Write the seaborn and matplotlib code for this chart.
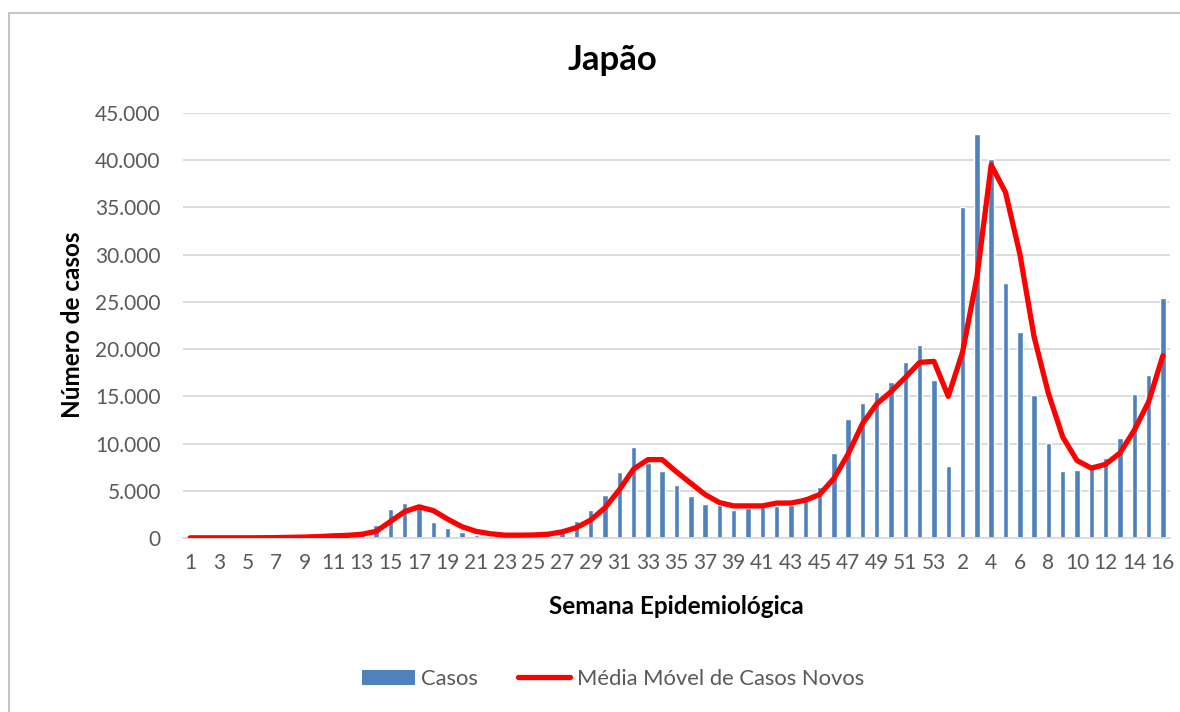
import matplotlib
matplotlib.use("Agg")
import matplotlib.pyplot as plt
import matplotlib.ticker as mticker
from matplotlib.patches import Rectangle, Patch
from matplotlib.lines import Line2D
import seaborn as sns
import pandas as pd

semanas = list(range(1, 54)) + list(range(1, 17))

casos = [
    0, 0, 0, 10, 10, 20, 30, 50, 80, 120, 200, 250, 450,
    1400, 3050, 3750, 3300, 1700, 1100, 600, 350,
    250, 200, 200, 250, 400,
    1000, 1800, 3000, 4600, 7000, 9600, 7900, 7100, 5650, 4400, 3650, 3500, 3000, 3200,
    3300, 3400, 3500, 4400, 5400, 9000, 12600, 14300, 15500, 16500, 18600, 20400, 16700,
    7600, 35100, 42800, 40100, 27000, 21800, 15100, 10100, 7100, 7200, 7400, 8500, 10600, 15200, 17300, 25400,
]

media_movel = [
    20, 20, 20, 20, 20, 30, 40, 70, 100, 150, 230, 280, 400,
    700, 1750, 2800, 3300, 2900, 2000, 1200, 700,
    450, 300, 300, 320, 400,
    650, 1100, 1900, 3200, 5100, 7300, 8300, 8300, 7000, 5800, 4600, 3750, 3400, 3400,
    3400, 3700, 3700, 4000, 4600, 6300, 8900, 12100, 14200, 15500, 17000, 18600, 18700,
    15000, 19700, 27600, 39500, 36600, 30100, 21300, 15300, 10700, 8200, 7400, 7800, 9000, 11400, 14400, 19300,
]

titulo = "Japão"
rotulo_x = "Semana Epidemiológica"
rotulo_y = "Número de casos"
nome_barras = "Casos"
nome_linha = "Média Móvel de Casos Novos"

df = pd.DataFrame({"pos": range(len(semanas)), "semana": semanas,
                   "casos": casos, "media": media_movel})

sns.set_theme(style="white")
plt.rcParams["font.family"] = ["Lato", "DejaVu Sans"]

W, H = 1180, 712
fig = plt.figure(figsize=(W / 100, H / 100), dpi=100)
# axes: x 183..1170, y 113..538 (pixels from top)
ax = fig.add_axes([183 / W, 1 - 538 / H, (1170 - 183) / W, (538 - 113) / H])

bar_color = "#4F81BD"
sns.barplot(data=df, x="pos", y="casos", color=bar_color, width=0.38,
            saturation=1, ax=ax, zorder=2)
sns.lineplot(data=df, x="pos", y="media", color="#FF0000", linewidth=3.8,
             ax=ax, zorder=3, solid_capstyle="round", solid_joinstyle="round")

ax.set_xlim(-0.5, len(semanas) - 0.5)
ax.set_ylim(0, 45000)
ax.yaxis.set_major_locator(mticker.MultipleLocator(5000))
ax.yaxis.set_major_formatter(mticker.FuncFormatter(
    lambda v, p: f"{int(v):,}".replace(",", ".")))
ticks = list(range(0, len(semanas), 2))
ax.set_xticks(ticks)
ax.set_xticklabels([str(semanas[i]) for i in ticks])

ax.grid(axis="y", color="#D9D9D9", linewidth=1.3, zorder=0)
ax.grid(axis="x", visible=False)
for s in ["top", "right", "left"]:
    ax.spines[s].set_visible(False)
ax.spines["bottom"].set_color("#D9D9D9")
ax.spines["bottom"].set_linewidth(1.3)
ax.tick_params(axis="both", length=0, labelsize=15, colors="#595959")
ax.tick_params(axis="x", pad=11)
ax.tick_params(axis="y", pad=16)

ax.set_xlabel(rotulo_x, fontsize=17.5, fontweight="bold", color="black")
ax.set_ylabel(rotulo_y, fontsize=17.5, fontweight="bold", color="black")
ax.xaxis.set_label_coords(0.5, (538 - 607) / 425, transform=ax.transAxes)
ax.yaxis.set_label_coords((72 - 183) / 987, 1 - (325 - 113) / 425, transform=ax.transAxes)
ax.xaxis.label.set_va("center")
ax.yaxis.label.set_va("center")
fig.text(612 / W, 1 - 60 / H, titulo, ha="center", va="center",
         fontsize=25, fontweight="bold", color="black")

handles = [Patch(facecolor=bar_color, edgecolor="none"),
           Line2D([0], [0], color="#FF0000", linewidth=3.8, solid_capstyle="round")]
fig.legend(handles, [nome_barras, nome_linha], loc="center",
           bbox_to_anchor=(613 / W, 1 - 679 / H), ncol=2, frameon=False,
           fontsize=15.8, handlelength=2.4, handleheight=0.7, columnspacing=1.8,
           handletextpad=0.3, labelcolor="#595959")

# chart area frame
fig.patches.append(Rectangle((9 / W, -0.1), 1.2, 1 - 13 / H + 0.1,
                             transform=fig.transFigure, fill=False,
                             edgecolor="#BFBFBF", linewidth=1.3))

fig.savefig("out.png", dpi=100)
